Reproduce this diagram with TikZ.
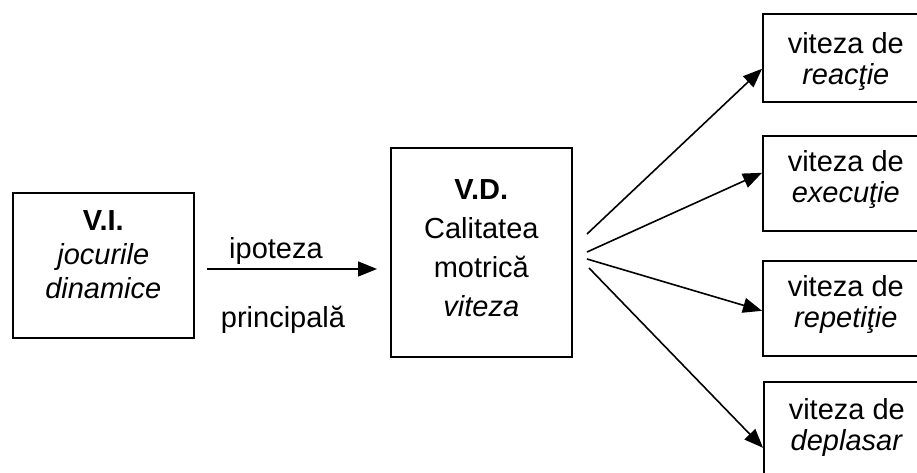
\documentclass[tikz,border=0pt]{standalone}
\usepackage{fontspec}
\setmainfont{Liberation Sans}
\usepackage{tikz,pgffor}
\usetikzlibrary{arrows.meta}
\tikzset{
	MyBox/.style={draw=black,line width=1.6pt,inner sep=0pt,align=center,
    anchor=north west},
	MyArrow/.style={line width=1.6pt,-{Triangle[length=19pt,width=15pt]}},
	MyText/.style={inner sep=0pt,anchor=base}
		}

\begin{document}
\begin{tikzpicture}[x=1pt,y=-1pt,font=\fontsize{29}{34}\selectfont]
	\useasboundingbox (0,0) rectangle (917,473);

	% independent and dependent variables
	\node[MyBox,minimum width=181pt,text height=106pt,text depth=39pt]
		(VI) at (12,192) {\textbf{V.I.}\\\textit{jocurile}\\\textit{dinamice}};
	\node[MyBox,minimum width=181pt,text height=169pt,text depth=40pt,
		font=\fontsize{29}{39}\selectfont]
		(VD) at (390,147) {\textbf{V.D.}\\Calitatea\\motrică\\\textit{viteza}};

	% the four kinds of speed (cut by the right border)
	\begin{scope}[font=\fontsize{29}{31}\selectfont]
	\node[MyBox,minimum width=166pt,text height=71pt,text depth=17pt]
		(R1) at (762,13) {viteza de\\\textit{reacţie}};
	\node[MyBox,minimum width=166pt,text height=67pt,text depth=28pt]
		(R2) at (762,135) {viteza de\\\textit{execuţie}};
	\node[MyBox,minimum width=166pt,text height=67pt,text depth=28pt]
		(R3) at (762,260) {viteza de\\\textit{repetiţie}};
	\node[MyBox,minimum width=166pt,text height=69pt,text depth=26pt]
		(R4) at (763,381) {viteza de\\\textit{deplasar}};
	\end{scope}

	% main hypothesis
	\coordinate (H) at (0,269);
	\draw[MyArrow,shorten <=12pt,shorten >=13pt] (H -| VI.east) -- (H -| VD.west);
	\node[MyText] (IP) at (276,258) {ipoteza};
	\node[MyText] (PR) at (283,327) {principală};

	% fan of arrows
	\coordinate (O1) at (587,234);
	\coordinate (O2) at (587,252);
	\coordinate (O3) at (587,259);
	\coordinate (O4) at (589,268);
	\foreach \i/\s in {1/-11,2/10.5,3/-2.5,4/-18.5}
		{\draw[MyArrow] (O\i) -- ([yshift=\s pt]R\i.west);}
\end{tikzpicture}
\end{document}
